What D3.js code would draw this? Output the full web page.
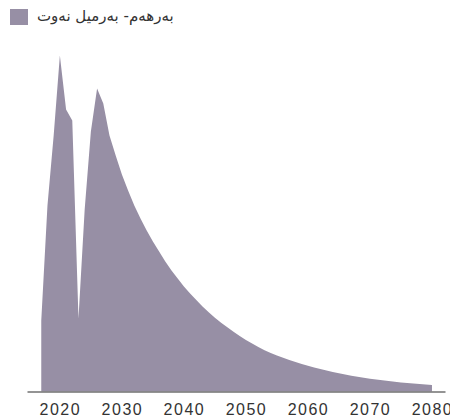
<!DOCTYPE html>
<html>
<head>
<meta charset="utf-8">
<script src="https://cdn.jsdelivr.net/npm/d3@7"></script>
<style>
  html, body { margin: 0; padding: 0; background: #fff; }
  svg { display: block; }
</style>
</head>
<body>
<svg id="chart" width="450" height="418"></svg>
<script>
// ---- data (arbitrary production units) ----
const years = [
  2017, 2018, 2019, 2020, 2021, 2022, 2023, 2024, 2025, 2026, 2027, 2028, 2029,
  2030, 2031, 2032, 2033, 2034, 2035, 2036, 2037, 2038, 2039, 2040, 2041, 2042,
  2043, 2044, 2045, 2046, 2047, 2048, 2049, 2050, 2051, 2052, 2053, 2054, 2055,
  2056, 2057, 2058, 2059, 2060, 2061, 2062, 2063, 2064, 2065, 2066, 2067, 2068,
  2069, 2070, 2071, 2072, 2073, 2074, 2075, 2076, 2077, 2078, 2079, 2080
];
const production = [
  71, 186, 256, 336, 282, 271, 73, 182, 260, 303, 288, 256, 236,
  217, 201, 186, 173, 161, 150, 140, 130, 121, 113, 105, 98, 91.5,
  85, 79.2, 73.8, 68.8, 64.2, 59.8, 55.6, 51.6, 47.9, 44.4, 41.3, 38.6, 36.1,
  33.8, 31.6, 29.5, 27.5, 25.8, 24.1, 22.5, 21, 19.6, 18.3, 17, 15.8, 14.7,
  13.7, 12.8, 12, 11.2, 10.4, 9.7, 9, 8.4, 7.9, 7.4, 6.9, 6.5
];
const tickYears = [2020, 2030, 2040, 2050, 2060, 2070, 2080];
const seriesLabel = "بەرهەم- بەرمیل نەوت";

// ---- drawing ----
const svg = d3.select("#chart");
const fillColor = "#978fa5";

const x = d3.scaleLinear().domain([2014.7, 2082.1]).range([27, 445]);
const y = d3.scaleLinear().domain([0, 340]).range([391.5, 51.5]);

const data = years.map((yr, i) => ({ year: yr, value: production[i] }));

const area = d3.area()
  .x(d => x(d.year))
  .y0(y(0))
  .y1(d => y(d.value))
  .curve(d3.curveLinear);

svg.append("path")
  .datum(data)
  .attr("d", area)
  .attr("fill", fillColor);

const axis = d3.axisBottom(x)
  .tickValues(tickYears)
  .tickFormat(d3.format("d"))
  .tickSize(0)
  .tickPadding(12);

const gx = svg.append("g")
  .attr("transform", `translate(0,${y(0)})`)
  .call(axis);
gx.select(".domain").attr("stroke", "#707070").attr("stroke-width", 1.6);
gx.selectAll("text")
  .attr("fill", "#333")
  .style("font-family", "'Liberation Sans', Arial, sans-serif")
  .style("font-size", "16px")
  .style("letter-spacing", "1.5px");

// legend
const legend = svg.append("g");
legend.append("rect")
  .attr("x", 10).attr("y", 9).attr("width", 18).attr("height", 16)
  .attr("fill", fillColor);
legend.append("text")
  .attr("x", 37).attr("y", 21)
  .attr("text-anchor", "start")
  .attr("fill", "#333")
  .style("font-family", "'DejaVu Sans', sans-serif")
  .style("font-size", "15px")
  .text(seriesLabel);
</script>
</body>
</html>
